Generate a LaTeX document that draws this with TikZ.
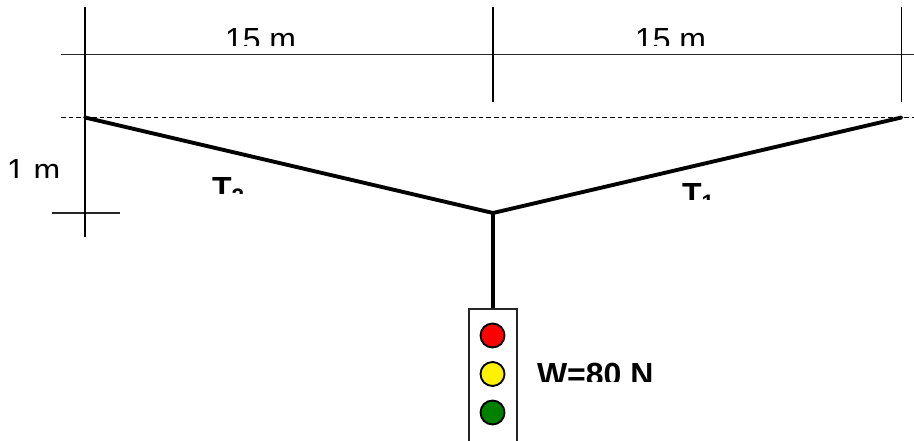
\documentclass[tikz,border=0pt]{standalone}
\usepackage{fontspec}
\setmainfont{Liberation Sans}
\tikzset{
  every node/.style={inner sep=0pt,outer sep=0pt},
  dimline/.style={line width=1.2pt,draw=black!85},
  vline/.style={line width=1.4pt,draw=black},
  cable/.style={line width=2.9pt,draw=black,line cap=round},
  datum/.style={line width=0.7pt,dash pattern=on 3.5pt off 2.3pt},
  lamp/.style={circle,draw=black,line width=1.4pt,minimum size=18pt},
  dimtext/.style={anchor=base west,font=\fontsize{24}{24}\selectfont},
  boldtext/.style={anchor=base west,font=\fontsize{24}{24}\selectfont\bfseries},
}
\begin{document}
\begin{tikzpicture}[x=0.75pt,y=-0.75pt]
\useasboundingbox (0,0) rectangle (914,441);
\clip (0,0) rectangle (914,441);
% anchor points
\coordinate (A) at (85,117.5);
\coordinate (B) at (901.5,117.5);
\coordinate (J) at (493,213);
\coordinate (L1) at (85,7);
\coordinate (L2) at (85,237);
\coordinate (M1) at (493,7);
\coordinate (M2) at (493,102);
\coordinate (R1) at (901.5,7);
\coordinate (R2) at (901.5,102);
\coordinate (H1) at (61,54.5);
\coordinate (H2) at (914,54.5);
\coordinate (D1) at (61,117);
\coordinate (D2) at (914,117);
\coordinate (K1) at (52,213);
\coordinate (K2) at (120,213);
\coordinate (BoxTop) at (493,309);
% dimension lines
\draw[dimline] (H1) -- (H2);
\draw[dimline] (K1) -- (K2);
\draw[datum] (D1) -- (D2);
\draw[vline] (L1) -- (L2);
\draw[vline] (M1) -- (M2);
\draw[vline] (R1) -- (R2);
% cables
\draw[cable,line join=miter] (A) -- (J) -- (B);
\draw[cable,line cap=butt] (J) -- (BoxTop);
% signal housing
\draw[line width=1.3pt,draw=black!85] (469,445) -- (469,309) -- (517,309) -- (517,445);
\node[lamp,fill=red] (lr) at (492.5,335.5) {};
\node[lamp,fill=yellow] (ly) at (492.5,374) {};
\node[lamp,fill=green!50!black] (lg) at (492.5,412.5) {};
% clipped labels
\begin{scope}
\clip (0,0) rectangle (914,45.5);
\node[dimtext] (d1) at (225,50.5) {15 m};
\node[dimtext] (d2) at (635,50.5) {15 m};
\end{scope}
\begin{scope}
\clip (0,140) rectangle (80,177.5);
\node[dimtext] (d3) at (7,182) {1 m};
\end{scope}
\begin{scope}
\clip (190,160) rectangle (260,193.5);
\node[boldtext] (t2) at (212,200) {T\textsubscript{2}};
\end{scope}
\begin{scope}
\clip (670,160) rectangle (730,200);
\node[boldtext] (t1) at (682,206) {T\textsubscript{1}};
\end{scope}
\begin{scope}
\clip (530,350) rectangle (670,382);
\node[boldtext] (w) at (537,386) {W=80 N};
\end{scope}
\end{tikzpicture}
\end{document}
